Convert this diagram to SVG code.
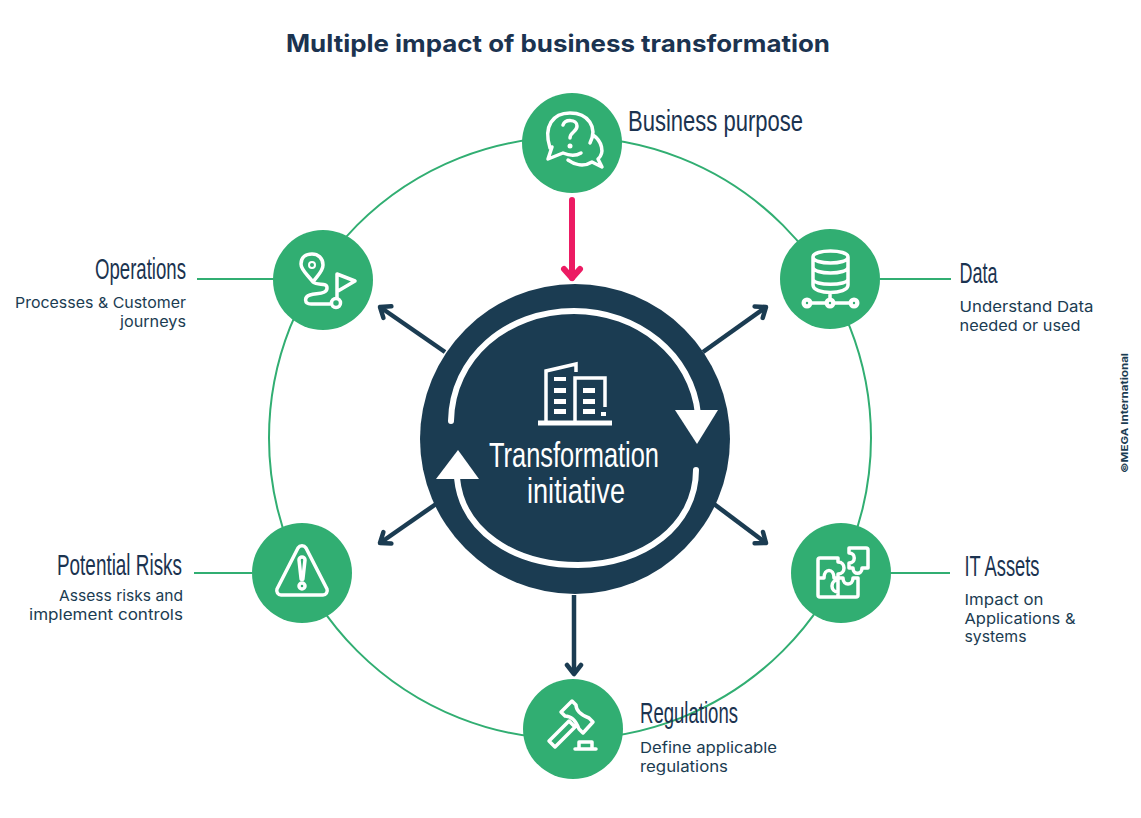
<svg xmlns="http://www.w3.org/2000/svg" width="1141" height="818" viewBox="0 0 1141 818">
<style>
.h{font-family:"Liberation Sans",Arial,sans-serif;font-size:29px;fill:#1b3350}
.c{font-family:"Liberation Sans",Arial,sans-serif;font-size:35px;fill:#fff}
.s{font-family:Inter,"Open Sans",sans-serif;font-size:15px;fill:#1b3c52}
.t{font-family:Inter,"Open Sans",sans-serif;font-size:24px;font-weight:700;fill:#1b3350}
.n{fill:#31ae72}
.i{fill:none;stroke:#fff;stroke-width:3.5;stroke-linecap:round;stroke-linejoin:round}
.l{fill:none;stroke:#31ae72;stroke-width:2}
.a{fill:none;stroke:#1b3c52;stroke-width:4.5;marker-end:url(#m)}
</style>
<defs>
<marker id="m" markerUnits="userSpaceOnUse" viewBox="0 0 20 20" refX="16" refY="10" markerWidth="20" markerHeight="20" orient="auto"><path d="M7 3L16 10L7 17" fill="none" stroke="#1b3c52" stroke-width="4.5" stroke-linecap="round" stroke-linejoin="round"/></marker>
<marker id="p" markerUnits="userSpaceOnUse" viewBox="0 0 24 24" refX="19" refY="12" markerWidth="24" markerHeight="24" orient="auto"><path d="M10 4L19 12L10 20" fill="none" stroke="#ec1b63" stroke-width="6" stroke-linecap="round" stroke-linejoin="round"/></marker>
</defs>
<rect width="1141" height="818" fill="#fff"/>
<text class="t" x="286" y="52" textLength="544" lengthAdjust="spacingAndGlyphs">Multiple impact of business transformation</text>
<g id="connectors">
<circle class="l" cx="570" cy="438" r="301"/>
<path class="l" d="M197 279H275M880 279H951M890 573H950M194 573H252"/>
<path class="a" d="M445 352L380 307"/>
<path class="a" d="M703 352L766 307"/>
<path class="a" d="M436 504L380 543"/>
<path class="a" d="M714 504L766 543"/>
<path class="a" d="M574 595V674"/>
<path d="M572 200V278" fill="none" stroke="#ec1b63" stroke-width="6" stroke-linecap="round" marker-end="url(#p)"/>
</g>
<g id="center">
<circle cx="575" cy="439" r="155" fill="#1b3c52"/>
<path d="M451 421C452 358 506 311 574 311C638 311 692 355 698 414" fill="none" stroke="#fff" stroke-width="6" stroke-linecap="round"/>
<path d="M696 470C696 525 644 565 578 565C512 565 462 530 457 478" fill="none" stroke="#fff" stroke-width="6" stroke-linecap="round"/>
<path d="M675 410H718L697 444Z" fill="#fff"/>
<path d="M436 479H479L458 450Z" fill="#fff"/>
<g fill="none" stroke="#fff" stroke-width="3.5">
<path d="M538 423H612" stroke-width="5"/>
<path d="M546 423V371L576 364V372M575 423V378H605V407"/>
</g>
<path fill="#fff" d="M554 377h12v4h-12zM554 388h12v5h-12zM554 399h12v5h-12zM554 409h12v5h-12zM583 388h12v5h-12zM583 399h12v5h-12zM583 409h12v5h-12zM601 412h5v4h-5z"/>
<text class="c" x="489" y="467" textLength="170" lengthAdjust="spacingAndGlyphs">Transformation</text>
<text class="c" x="527" y="503" textLength="98" lengthAdjust="spacingAndGlyphs">initiative</text>
</g>
<g id="business-purpose">
<circle class="n" cx="572" cy="143" r="50"/>
<path class="i" d="M550 148C543 126 553 113 570 113C588 113 598 127 590 143M552 147L548 159L563 153C570 156 576 156 581 153M593 135C602 141 605 153 598 159L602 167L592 162C584 167 575 165 568 160"/>
<path class="i" d="M563 125C565 119 577 119 577 126C577 132 570 132 570 138"/>
<circle cx="570" cy="146" r="2.5" fill="#fff"/>
<text class="h" x="628" y="131" textLength="175" lengthAdjust="spacingAndGlyphs">Business purpose</text>
</g>
<g id="operations">
<circle class="n" cx="323" cy="280" r="50"/>
<path class="i" d="M313 282C307 274 301 270 301 264C301 257 306 254 312 254C318 254 323 258 323 265C323 271 318 275 313 282ZM313 282C318 286 327 282 327 288C327 294 318 293 310 295C304 297 304 304 311 304H330"/>
<circle cx="312" cy="265" r="3" fill="none" stroke="#fff" stroke-width="2"/>
<circle class="i" cx="336" cy="303" r="4.5"/>
<path class="i" d="M337 298V274L355 281L338 291"/>
<text class="h" x="95" y="279" textLength="91" lengthAdjust="spacingAndGlyphs">Operations</text>
<text class="s" x="186" y="308" text-anchor="end" textLength="171" lengthAdjust="spacingAndGlyphs">Processes &amp; Customer</text>
<text class="s" x="186" y="327" text-anchor="end" textLength="66" lengthAdjust="spacingAndGlyphs">journeys</text>
</g>
<g id="data">
<circle class="n" cx="830" cy="279" r="50"/>
<path class="i" d="M813 257C813 249 848 249 848 257V285C848 295 813 295 813 285ZM813 257C813 265 848 265 848 257M813 267C813 275 848 275 848 267M813 279C813 286 848 286 848 279M830 293V303M812 303H849"/>
<g fill="#fff"><circle cx="807" cy="303" r="5.5"/><circle cx="830" cy="303" r="5.5"/><circle cx="854" cy="303" r="5.5"/></g>
<g fill="#31ae72"><circle cx="807" cy="303" r="1.2"/><circle cx="830" cy="303" r="1.2"/><circle cx="854" cy="303" r="1.2"/></g>
<text class="h" x="959.500" y="283" textLength="38" lengthAdjust="spacingAndGlyphs">Data</text>
<text class="s" x="959.500" y="312" textLength="134" lengthAdjust="spacingAndGlyphs">Understand Data</text>
<text class="s" x="959.500" y="331" textLength="121" lengthAdjust="spacingAndGlyphs">needed or used</text>
</g>
<g id="it-assets">
<circle class="n" cx="841" cy="573" r="50"/>
<path class="i" d="M820 558H838V562C846 562 846 574 838 574V597H820Q818 597 818 595V560Q818 558 820 558ZM818 578H824C824 568 834 568 834 578H838M838 580C830 580 830 592 838 592M838 578H843C843 586 853 586 853 578H858V595Q858 597 856 597H838"/>
<path class="i" d="M849 548H866Q868 548 868 550V568H862C862 575 853 575 853 568H849V563C856 563 856 553 849 553Z"/>
<text class="h" x="964.500" y="576" textLength="75" lengthAdjust="spacingAndGlyphs">IT Assets</text>
<text class="s" x="964.500" y="605" textLength="79" lengthAdjust="spacingAndGlyphs">Impact on</text>
<text class="s" x="964.500" y="624" textLength="111" lengthAdjust="spacingAndGlyphs">Applications &amp;</text>
<text class="s" x="964.500" y="642" textLength="62" lengthAdjust="spacingAndGlyphs">systems</text>
</g>
<g id="regulations">
<circle class="n" cx="573" cy="729" r="50"/>
<path class="i" stroke-linejoin="miter" stroke-linecap="square" d="M549 741L569 721L575 727L555 747ZM561 712L572 701L576 705C576 710 581 715 589 718L593 722L583 733L579 729C576 721 571 716 565 716Z"/>
<path class="i" stroke-linecap="square" stroke-linejoin="miter" d="M579 748V742H592V748M575 749H596"/>
<text class="h" x="640" y="723" textLength="98" lengthAdjust="spacingAndGlyphs">Regulations</text>
<text class="s" x="640" y="753" textLength="137" lengthAdjust="spacingAndGlyphs">Define applicable</text>
<text class="s" x="640" y="772" textLength="88" lengthAdjust="spacingAndGlyphs">regulations</text>
</g>
<g id="potential-risks">
<circle class="n" cx="302" cy="573" r="50"/>
<path class="i" d="M298 548C300 545 304 545 306 548L327 589C328 592 326 595 323 595H281C278 595 276 592 277 589Z"/>
<path class="i" stroke-width="2.5" d="M299 560C299 556 305 556 305 560L303 578C303 580 301 580 301 578Z"/>
<circle class="i" cx="302" cy="586" r="3" stroke-width="2.5"/>
<text class="h" x="57" y="575" textLength="125" lengthAdjust="spacingAndGlyphs">Potential Risks</text>
<text class="s" x="183" y="601" text-anchor="end" textLength="124" lengthAdjust="spacingAndGlyphs">Assess risks and</text>
<text class="s" x="183" y="620" text-anchor="end" textLength="154" lengthAdjust="spacingAndGlyphs">implement controls</text>
</g>
<text transform="translate(1128 473) rotate(-90)" font-family="Inter,'Open Sans',sans-serif" font-size="9.500" font-weight="700" fill="#1b3c52" textLength="120" lengthAdjust="spacingAndGlyphs">©MEGA International</text>
</svg>
